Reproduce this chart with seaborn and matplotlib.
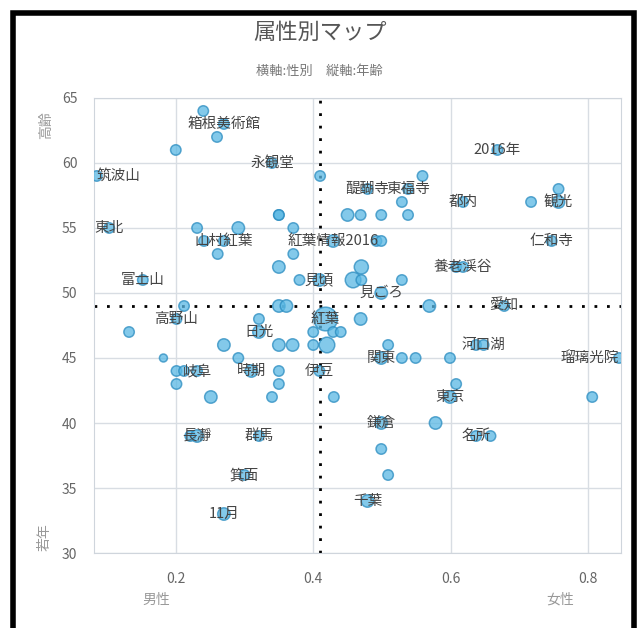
import pandas as pd
import numpy as np
import seaborn as sns
import matplotlib.pyplot as plt
from matplotlib.patches import Rectangle

# x: female ratio, y: average age, n: relative bubble size, label: keyword (blank = none)
x_vals = [0.24, 0.27, 0.26, 0.20, 0.34, 0.085, 0.41, 0.35, 0.35, 0.103, 0.231, 0.291, 0.371,
          0.241, 0.27, 0.261, 0.371, 0.35, 0.152, 0.38, 0.409, 0.212, 0.35, 0.361,
          0.668, 0.559, 0.479, 0.538, 0.757, 0.618, 0.717, 0.757, 0.529, 0.45, 0.469, 0.499,
          0.538, 0.429, 0.492, 0.499, 0.747, 0.608, 0.618, 0.47, 0.458, 0.47, 0.529, 0.499,
          0.569, 0.678,
          0.201, 0.132, 0.321, 0.321, 0.40, 0.27, 0.35, 0.37, 0.40, 0.182, 0.291, 0.201,
          0.212, 0.231, 0.31, 0.35, 0.409, 0.201, 0.35, 0.251, 0.34, 0.221, 0.231, 0.321,
          0.30, 0.27,
          0.418, 0.469, 0.429, 0.44, 0.42, 0.509, 0.499, 0.529, 0.549, 0.599, 0.637, 0.648,
          0.845, 0.608, 0.599, 0.43, 0.806, 0.499, 0.578, 0.637, 0.658, 0.499, 0.509, 0.479]
y_vals = [64, 63, 62, 61, 60, 59, 59, 56, 56, 55, 55, 55, 55,
          54, 54, 53, 53, 52, 51, 51, 51, 49, 49, 49,
          61, 59, 58, 58, 58, 57, 57, 57, 57, 56, 56, 56,
          56, 54, 54, 54, 54, 52, 52, 52, 51, 51, 51, 50,
          49, 49,
          48, 47, 48, 47, 47, 46, 46, 46, 46, 45, 45, 44,
          44, 44, 44, 44, 44, 43, 43, 42, 42, 39, 39, 39,
          36, 33,
          48, 48, 47, 47, 46, 46, 45, 45, 45, 45, 46, 46,
          45, 43, 42, 42, 42, 40, 40, 39, 39, 38, 36, 34]
n_vals = [2, 2, 2, 2, 2, 2, 2, 2, 2, 2, 2, 3, 2,
          2, 2, 2, 2, 3, 2, 2, 3, 2, 3, 3,
          2, 2, 2, 2, 2, 2, 2, 3, 2, 3, 2, 2,
          2, 3, 2, 2, 2, 2, 2, 4, 5, 2, 2, 3,
          3, 2,
          2, 2, 2, 3, 2, 3, 3, 3, 2, 1, 2, 2,
          2, 2, 3, 2, 2, 2, 2, 3, 2, 2, 3, 2,
          2, 3,
          12, 3, 2, 2, 5, 2, 3, 2, 2, 2, 2, 2,
          2, 2, 3, 2, 2, 3, 3, 2, 2, 2, 2, 3]
labels = ['', '箱根美術館', '', '', '永観堂', '筑波山', '', '', '', '東北', '', '', '',
          '', '山村紅葉', '', '', '', '富士山', '', '見頃', '', '', '',
          '2016年', '', '醍醐寺', '東福寺', '', '都内', '', '観光', '', '', '', '',
          '', '紅葉情報2016', '', '', '仁和寺', '', '養老渓谷', '', '', '', '', '見ごろ',
          '', '愛知',
          '高野山', '', '', '日光', '', '', '', '', '', '', '', '',
          '', '岐阜', '時期', '', '伊豆', '', '', '', '', '', '長瀞', '群馬',
          '箕面', '11月',
          '紅葉', '', '', '', '', '', '関東', '', '', '', '', '河口湖',
          '瑠璃光院', '', '東京', '', '', '鎌倉', '', '名所', '', '', '', '千葉']

x_mean = 0.41
y_mean = 49

df = pd.DataFrame({'female': x_vals, 'age': y_vals, 'n': n_vals, 'label': labels})

sns.set_style('whitegrid')
plt.rcParams['font.family'] = ['Noto Sans CJK JP', 'DejaVu Sans']

fig = plt.figure(figsize=(6.37, 6.28), dpi=100)
ax = fig.add_axes([0.1476, 0.1194, 0.8274, 0.7246])

sns.scatterplot(data=df, x='female', y='age', size='n', sizes=(33, 290), size_norm=(1, 12),
                color='#5ab8e4', alpha=0.75, edgecolor='#2a8cc0', linewidth=1.1,
                legend=False, ax=ax, zorder=3)

# labels sit on their bubble; the two at the plot edges are kept inside
for _, r in df[df['label'] != ''].iterrows():
    ha = 'center'
    if r['label'] == '筑波山':
        ha = 'left'
    elif r['label'] == '瑠璃光院':
        ha = 'right'
    ax.text(r['female'], r['age'], r['label'], ha=ha, va='center',
            fontsize=10.5, color='#444444', zorder=4)

ax.axvline(x_mean, color='black', linestyle=(0, (1, 3.5)), linewidth=2, zorder=2)
ax.axhline(y_mean, color='black', linestyle=(0, (1, 3.5)), linewidth=2, zorder=2)

ax.set_xlim(0.081, 0.848)
ax.set_ylim(30, 65)
ax.set_xticks([0.2, 0.4, 0.6, 0.8])
ax.set_yticks([30, 35, 40, 45, 50, 55, 60, 65])
ax.set_xlabel('')
ax.set_ylabel('')
ax.grid(color='#d8dde3', linewidth=1)
for s in ax.spines.values():
    s.set_color('#cfd5dc')
ax.tick_params(axis='x', colors='#666666', labelsize=10, pad=14, length=0)
ax.tick_params(axis='y', colors='#666666', labelsize=10, pad=12, length=0)

fig.text(0.502, 0.949, '属性別マップ', ha='center', va='center', fontsize=16, color='#555555')
fig.text(0.502, 0.887, '横軸:性別\u3000縦軸:年齢', ha='center', va='center', fontsize=9.5,
         color='#777777')
fig.text(0.073, 0.80, '高齢', rotation=90, ha='center', va='center', fontsize=10, color='#999999')
fig.text(0.070, 0.145, '若年', rotation=90, ha='center', va='center', fontsize=10, color='#999999')
fig.text(0.245, 0.045, '男性', ha='center', va='center', fontsize=10, color='#999999')
fig.text(0.880, 0.045, '女性', ha='center', va='center', fontsize=10, color='#999999')

# black frame around the chart
fig.patches.append(Rectangle((0.02, -0.05), 0.975, 1.03, transform=fig.transFigure,
                             fill=False, edgecolor='black', linewidth=4, clip_on=False))

fig.savefig('out.png', dpi=100)
